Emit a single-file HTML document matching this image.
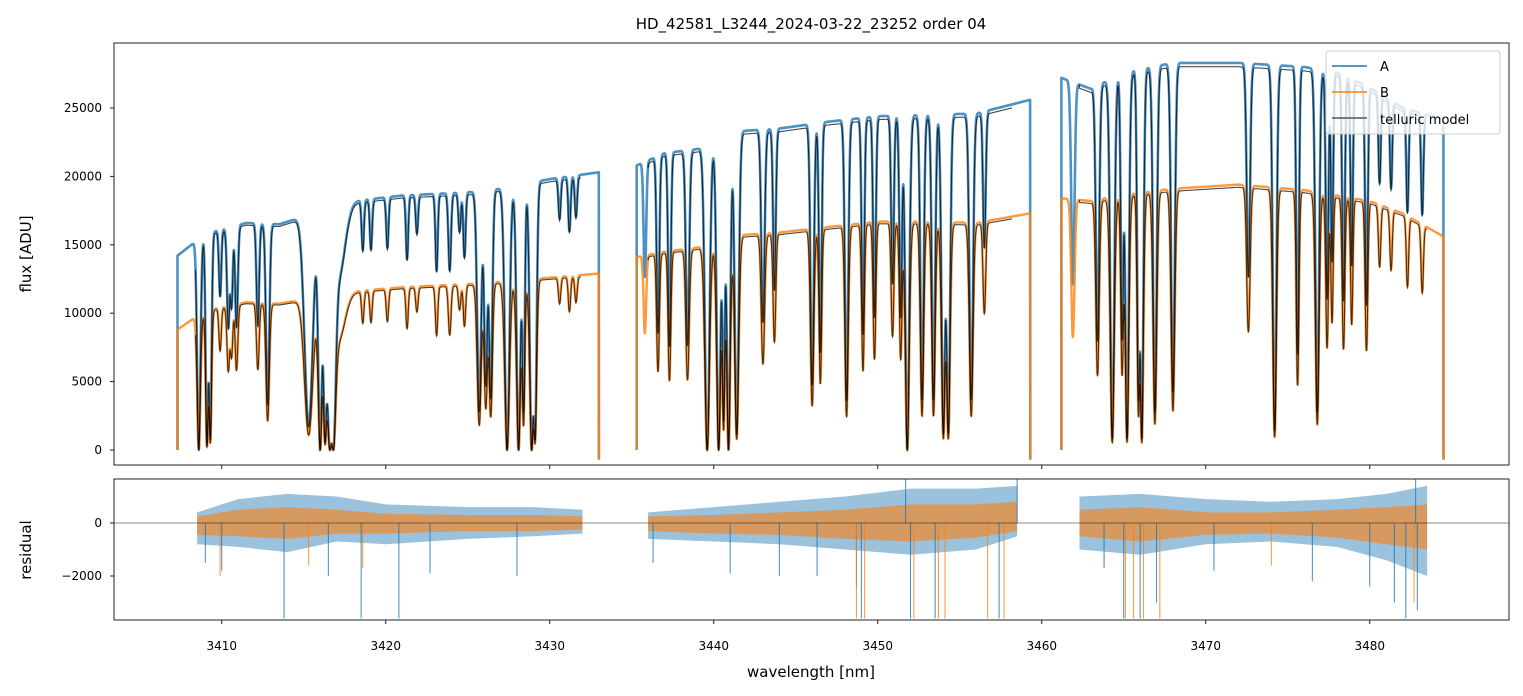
<!DOCTYPE html>
<html><head><meta charset="utf-8"><style>
body{margin:0;background:#fff;width:1523px;height:696px;overflow:hidden;font-family:"Liberation Sans","DejaVu Sans",sans-serif}
svg{display:block}
text{font-family:"DejaVu Sans","Liberation Sans",sans-serif;fill:#000}
</style></head><body>
<svg id="chart" width="1523" height="696" xmlns="http://www.w3.org/2000/svg"></svg>
<script>
// ---- data ----
const segStart=[3407.3,3435.3,3461.2];
const segEnd=[3433.0,3459.3,3484.5];
const modelStart=[3408.4,3436.0,3462.3];
const modelEnd=[3431.9,3458.2,3483.5];
const contWl=[3407.3,3409.0,3411.5,3413.5,3418.0,3421.0,3426.0,3430.0,3433.0, 3435.3,3437.0,3439.0,3441.5,3444.0,3447.0,3450.0,3453.0,3456.0,3459.3, 3461.2,3463.0,3465.0,3468.0,3472.0,3476.0,3478.0,3480.0,3482.0,3484.5];
const contA=[14200,15800,16600,16500,18200,18600,18900,19800,20300, 20800,21700,22000,23300,23500,24000,24400,24500,24600,25600, 27200,26400,27600,28300,28300,28000,27600,26500,25000,24200];
const contB=[8800,10200,10800,10700,11600,11900,12200,12600,12900, 14100,14500,14800,15700,15900,16300,16700,16700,16600,17300, 18400,18200,18700,19100,19400,19000,18600,18200,17300,15600];
const lineCenters=[3408.6,3409.1,3409.3,3409.9,3410.4,3410.6,3410.9,3412.2,3412.8,3415.3,3416.0,3416.3,3416.6,3416.8,3417.1,3418.6,3419.1,3420.1,3421.3,3421.9,3423.1,3423.9,3424.5,3424.8,3425.7,3426.1,3426.4,3427.4,3428.1,3428.4,3428.9,3429.1,3430.6,3431.2,3431.6,
 3435.8,3436.6,3437.3,3438.4,3439.6,3440.3,3440.6,3440.9,3441.4,3443.0,3443.7,3446.0,3446.5,3448.1,3449.1,3449.8,3450.9,3451.4,3451.8,3452.7,3453.4,3454.0,3454.3,3455.7,3456.5,
 3461.9,3463.4,3464.3,3464.9,3465.2,3465.9,3466.1,3466.9,3468.0,3472.6,3474.2,3475.6,3476.8,3477.4,3477.7,3478.4,3478.9,3479.8,3480.6,3481.3,3482.3,3483.2];
const lineDepths=[1.0,0.98,0.95,0.3,0.45,0.35,0.45,0.45,0.8,0.9,1.0,0.95,1.0,1.0,0.3,0.2,0.2,0.2,0.25,0.15,0.3,0.3,0.15,0.25,0.85,0.75,0.8,1.0,1.0,0.85,1.0,0.95,0.15,0.2,0.15,
 0.4,0.6,0.65,0.65,1.0,1.0,0.9,1.0,0.95,0.6,0.5,0.8,0.7,0.85,0.65,0.6,0.5,0.6,1.0,0.85,0.85,0.95,0.95,0.85,0.4,
 0.55,0.7,0.97,0.7,0.97,0.85,0.97,0.9,0.85,0.55,0.95,0.75,0.9,0.6,0.5,0.6,0.5,0.6,0.25,0.25,0.3,0.3];
const lineWidths=[0.1,0.08,0.08,0.07,0.08,0.07,0.08,0.08,0.1,0.25,0.12,0.1,0.18,0.14,0.4,0.07,0.07,0.07,0.07,0.07,0.07,0.08,0.07,0.07,0.12,0.1,0.1,0.14,0.12,0.08,0.12,0.1,0.07,0.07,0.07,
 0.08,0.08,0.08,0.1,0.14,0.12,0.08,0.11,0.12,0.1,0.08,0.1,0.08,0.1,0.08,0.08,0.08,0.08,0.12,0.1,0.1,0.11,0.11,0.11,0.08,
 0.1,0.1,0.12,0.08,0.11,0.08,0.1,0.11,0.11,0.1,0.11,0.08,0.11,0.08,0.07,0.08,0.07,0.08,0.07,0.07,0.07,0.07];
// residual envelopes
const resWl=[3408.5,3411,3414,3417,3420,3425,3429,3432, 3436,3440,3444,3448,3452,3456,3458.5, 3462.3,3466,3470,3474,3478,3481,3483.5];
const resUpA=[400,900,1100,1000,700,600,600,500, 400,600,800,1000,1300,1300,1400, 1000,1100,900,800,900,1100,1400];
const resLoA=[-800,-900,-1100,-700,-800,-600,-500,-400, -600,-700,-800,-1000,-1200,-1000,-500, -1000,-1200,-800,-700,-900,-1400,-2000];
const resUpB=[250,500,600,500,350,300,300,250, 250,300,400,500,700,700,800, 500,600,400,400,500,600,700];
const resLoB=[-450,-500,-600,-400,-400,-300,-300,-250, -300,-400,-450,-600,-700,-550,-300, -500,-700,-450,-400,-550,-800,-1000];
const spikeWlA=[3409.0,3410.0,3413.8,3416.5,3418.5,3420.8,3422.7,3428.0,3436.3,3441.0,3444.0,3446.3,3448.7,3449.0,3452.0,3453.5,3457.4,3451.7,3458.5,3463.8,3465.0,3466.0,3467.0,3470.5,3476.5,3480.0,3481.5,3482.2,3482.9,3482.8];
const spikeValA=[-1500,-1800,-3600,-2000,-3600,-3600,-1900,-2000,-1500,-1900,-2000,-2000,-2400,-3600,-3600,-3600,-3600,1660,1660,-1700,-3600,-3600,-3000,-1800,-2200,-2400,-3000,-3600,-3300,1660];
const spikeWlB=[3409.9,3415.3,3418.6,3448.7,3449.2,3452.2,3453.7,3454.1,3456.7,3457.7,3465.1,3465.6,3466.2,3467.2,3474.0,3482.7];
const spikeValB=[-2000,-1600,-1700,-3600,-3600,-3600,-3600,-3600,-3600,-3600,-3600,-3600,-3600,-3600,-1600,-3000];
const xTicks=[3410,3420,3430,3440,3450,3460,3470,3480];
const yTicksTop=[0,5000,10000,15000,20000,25000];
const yTicksRes=[0,-2000];

// ---- axes ----
const L=114,R=1509,T1=43,B1=465,T2=479,B2=620;
const X=w=>114+(w-3403.43)*16.4;
const Y1=v=>450-v*0.01368;
const Y2=v=>523-v*0.0265;
const svg=document.getElementById('chart');
const NS='http://www.w3.org/2000/svg';
function mk(tag,attrs,parent){const e=document.createElementNS(NS,tag);for(const k in attrs)e.setAttribute(k,attrs[k]);(parent||svg).appendChild(e);return e;}
function interp(xs,ys,x){if(x<=xs[0])return ys[0];for(let i=1;i<xs.length;i++){if(x<=xs[i]){const t=(x-xs[i-1])/(xs[i]-xs[i-1]);return ys[i-1]+t*(ys[i]-ys[i-1]);}}return ys[ys.length-1];}
function transm(w){let f=1;for(let i=0;i<lineCenters.length;i++){const d=(w-lineCenters[i])/lineWidths[i];if(Math.abs(d)<6)f*=1-lineDepths[i]*Math.exp(-0.5*d*d);}return f;}

const defs=mk('defs',{});
const cp1=mk('clipPath',{id:'c1'},defs);mk('rect',{x:L,y:T1,width:R-L,height:B1-T1},cp1);
const cp2=mk('clipPath',{id:'c2'},defs);mk('rect',{x:L,y:T2,width:R-L,height:B2-T2},cp2);

// ---- top panel ----
const g1=mk('g',{'clip-path':'url(#c1)'});


function fluxPath(cont,s,e,scale,edge){let d='';const step=0.012;
  for(let i=0;i<s.length;i++){
    d+='M'+X(s[i]).toFixed(1)+','+Y1(edge?0:interp(contWl,cont,s[i])*transm(s[i])).toFixed(1);
    for(let w=s[i];w<=e[i];w+=step){d+='L'+X(w).toFixed(1)+','+Y1(interp(contWl,cont,w)*transm(w)*scale).toFixed(1);}
    if(edge)d+='L'+X(e[i]).toFixed(1)+','+Y1(-700).toFixed(1);
  }return d;}
const pA=mk('path',{d:fluxPath(contA,segStart,segEnd,1,true),fill:'none',stroke:'#1f77b4','stroke-opacity':0.8,'stroke-width':2.6,'stroke-linejoin':'round'},g1);


const pB=mk('path',{d:fluxPath(contB,segStart,segEnd,1,true),fill:'none',stroke:'#ff7f0e','stroke-opacity':0.8,'stroke-width':2.4,'stroke-linejoin':'round'},g1);


const mA=mk('path',{d:fluxPath(contA,modelStart,modelEnd,0.99,false),fill:'none',stroke:'#000','stroke-opacity':0.7,'stroke-width':1.1},g1);


const mB=mk('path',{d:fluxPath(contB,modelStart,modelEnd,0.99,false),fill:'none',stroke:'#000','stroke-opacity':0.7,'stroke-width':1.1},g1);



// ---- residual panel ----
const g2=mk('g',{'clip-path':'url(#c2)'});


const segR=[[0,8],[8,15],[15,22]];
function band(up,lo,color,op,name){segR.forEach(([a,b])=>{let d='';for(let i=a;i<b;i++)d+=(i===a?'M':'L')+X(resWl[i]).toFixed(1)+','+Y2(up[i]).toFixed(1);for(let i=b-1;i>=a;i--)d+='L'+X(resWl[i]).toFixed(1)+','+Y2(lo[i]).toFixed(1);
  const p=mk('path',{d:d+'Z',fill:color,'fill-opacity':op},g2);
  
  });}
band(resUpA,resLoA,'#1f77b4',0.45,'residual-a-band');
band(resUpB,resLoB,'#ff7f0e',0.6,'residual-b-band');
function spikes(ws,vs,color,name){for(let i=0;i<ws.length;i++){const l=mk('line',{x1:X(ws[i]),x2:X(ws[i]),y1:Y2(0),y2:Y2(vs[i]),stroke:color,'stroke-width':1,'stroke-opacity':0.85},g2);
  
  }}
spikes(spikeWlA,spikeValA,'#1f77b4','residual-a-spike');
spikes(spikeWlB,spikeValB,'#ff7f0e','residual-b-spike');
const zl=mk('line',{x1:L,x2:R,y1:Y2(0),y2:Y2(0),stroke:'#000','stroke-opacity':0.6,'stroke-width':0.8});



// ---- frames & ticks ----
[[T1,B1,'flux-axes-frame'],[T2,B2,'residual-axes-frame']].forEach(([t,b,n])=>{const r=mk('rect',{x:L,y:t,width:R-L,height:b-t,fill:'none',stroke:'#222','stroke-width':1});
  
  });
xTicks.forEach(v=>{
  mk('line',{x1:X(v),x2:X(v),y1:B1,y2:B1+4,stroke:'#222'});
  mk('line',{x1:X(v),x2:X(v),y1:B2,y2:B2+4,stroke:'#222'});
  const t=mk('text',{x:X(v),y:B2+30,'text-anchor':'middle','font-size':12});t.textContent=v;
  
  
});
yTicksTop.forEach(v=>{mk('line',{x1:L-4,x2:L,y1:Y1(v),y2:Y1(v),stroke:'#222'});
  const t=mk('text',{x:L-12,y:Y1(v)+4,'text-anchor':'end','font-size':12});t.textContent=v;
  
  });
yTicksRes.forEach(v=>{mk('line',{x1:L-4,x2:L,y1:Y2(v),y2:Y2(v),stroke:'#222'});
  const t=mk('text',{x:L-12,y:Y2(v)+4,'text-anchor':'end','font-size':12});t.textContent=v===0?'0':'\u2212'+Math.abs(v);
  
  });
</script>
<svg style="position:absolute;left:0;top:0" width="1523" height="696" xmlns="http://www.w3.org/2000/svg">
<text x="811" y="29" text-anchor="middle" font-size="15">HD_42581_L3244_2024-03-22_23252  order 04</text>
<text x="811" y="677" text-anchor="middle" font-size="15">wavelength [nm]</text>
<text transform="translate(31,254) rotate(-90)" text-anchor="middle" font-size="15">flux [ADU]</text>
<text transform="translate(31,550) rotate(-90)" text-anchor="middle" font-size="15">residual</text>
<g>
<rect x="1326" y="51" width="174" height="83" rx="3" fill="#fff" fill-opacity="0.8" stroke="#ccc"/>
<line x1="1332" x2="1367" y1="66" y2="66" stroke="#1f77b4" stroke-width="1.5"/>
<text x="1380" y="71" font-size="13">A</text>
<line x1="1332" x2="1367" y1="92" y2="92" stroke="#ff7f0e" stroke-width="1.5"/>
<text x="1380" y="97" font-size="13">B</text>
<line x1="1332" x2="1367" y1="118" y2="118" stroke="#555" stroke-width="1.5"/>
<text x="1380" y="124" font-size="13">telluric model</text>
</g>
</svg>
</body></html>
